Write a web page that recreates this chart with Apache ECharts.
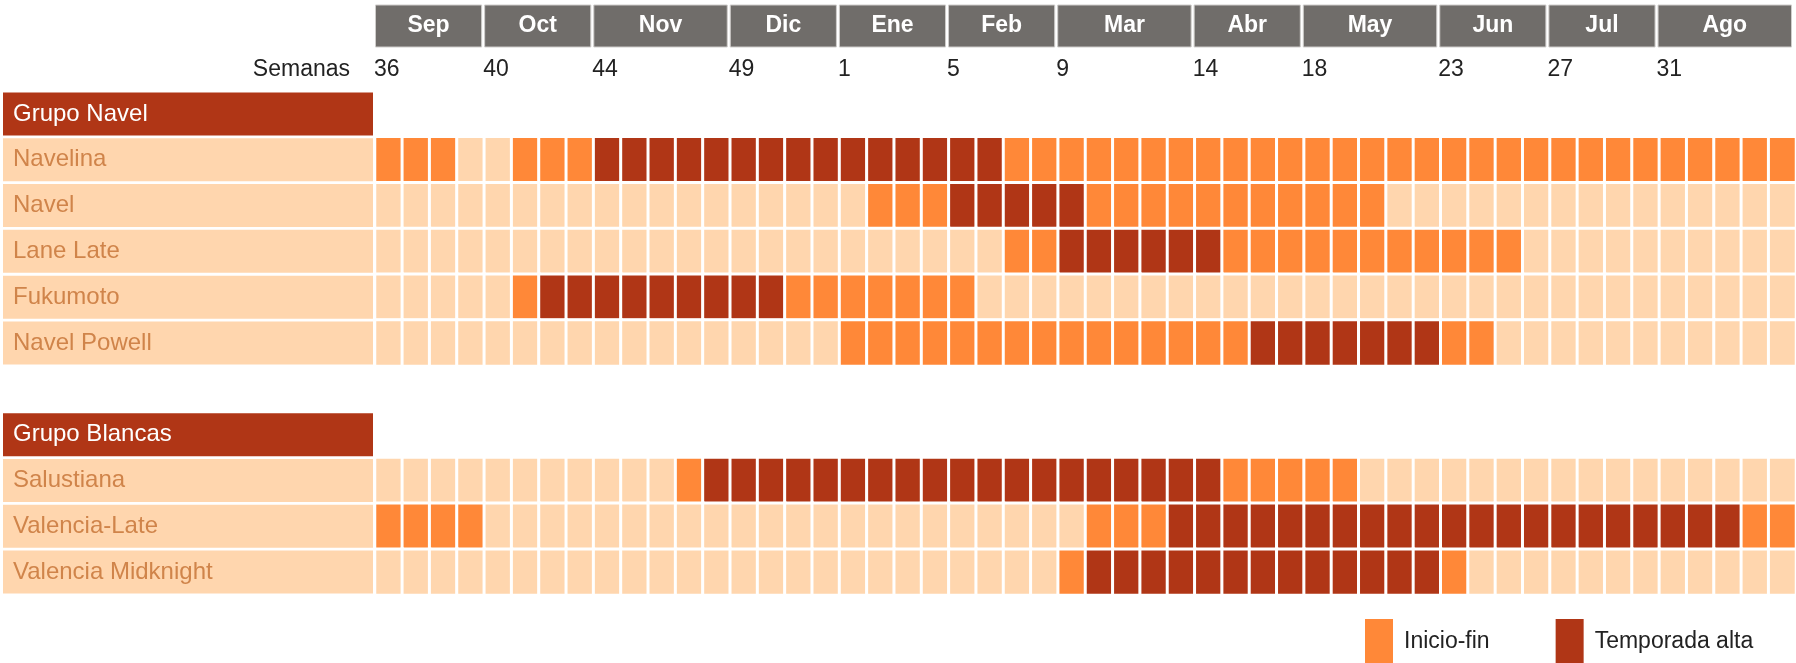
<!DOCTYPE html>
<html>
<head>
<meta charset="utf-8">
<script src="https://cdn.jsdelivr.net/npm/echarts@6.0.0/dist/echarts.min.js"></script>
<style>
  html, body { margin: 0; padding: 0; background: #fff; }
  #chart-container { width: 1796px; height: 663px; }
</style>
</head>
<body>
<div id="chart-container"></div>
<script>
const weeks = [
  "36", "37", "38", "39", "40", "41", "42", "43", "44", "45", "46", "47", "48",
  "49", "50", "51", "52", "1", "2", "3", "4", "5", "6", "7", "8", "9", "10",
  "11", "12", "13", "14", "15", "16", "17", "18", "19", "20", "21", "22", "23",
  "24", "25", "26", "27", "28", "29", "30", "31", "32", "33", "34", "35",
];

const monthNames = ["Sep", "Oct", "Nov", "Dic", "Ene", "Feb", "Mar", "Abr", "May", "Jun", "Jul", "Ago"];
const monthWeeks = [4, 4, 5, 4, 4, 4, 5, 4, 5, 4, 4, 5];

const rows = [
  "Grupo Navel", "Navelina", "Navel", "Lane Late", "Fukumoto", "Navel Powell",
  "", "Grupo Blancas", "Salustiana", "Valencia-Late", "Valencia Midknight",
];
const groups = ["Grupo Navel", "Grupo Blancas"];

// 0 = fuera de temporada, 1 = inicio-fin, 2 = temporada alta
const navelina = [
  1, 1, 1, 0, 0, 1, 1, 1, 2, 2, 2, 2, 2, 2, 2, 2, 2, 2, 2, 2, 2, 2, 2, 1, 1, 1,
  1, 1, 1, 1, 1, 1, 1, 1, 1, 1, 1, 1, 1, 1, 1, 1, 1, 1, 1, 1, 1, 1, 1, 1, 1, 1,
];
const navel = [
  0, 0, 0, 0, 0, 0, 0, 0, 0, 0, 0, 0, 0, 0, 0, 0, 0, 0, 1, 1, 1, 2, 2, 2, 2, 2,
  1, 1, 1, 1, 1, 1, 1, 1, 1, 1, 1, 0, 0, 0, 0, 0, 0, 0, 0, 0, 0, 0, 0, 0, 0, 0,
];
const laneLate = [
  0, 0, 0, 0, 0, 0, 0, 0, 0, 0, 0, 0, 0, 0, 0, 0, 0, 0, 0, 0, 0, 0, 0, 1, 1, 2,
  2, 2, 2, 2, 2, 1, 1, 1, 1, 1, 1, 1, 1, 1, 1, 1, 0, 0, 0, 0, 0, 0, 0, 0, 0, 0,
];
const fukumoto = [
  0, 0, 0, 0, 0, 1, 2, 2, 2, 2, 2, 2, 2, 2, 2, 1, 1, 1, 1, 1, 1, 1, 0, 0, 0, 0,
  0, 0, 0, 0, 0, 0, 0, 0, 0, 0, 0, 0, 0, 0, 0, 0, 0, 0, 0, 0, 0, 0, 0, 0, 0, 0,
];
const navelPowell = [
  0, 0, 0, 0, 0, 0, 0, 0, 0, 0, 0, 0, 0, 0, 0, 0, 0, 1, 1, 1, 1, 1, 1, 1, 1, 1,
  1, 1, 1, 1, 1, 1, 2, 2, 2, 2, 2, 2, 2, 1, 1, 0, 0, 0, 0, 0, 0, 0, 0, 0, 0, 0,
];
const salustiana = [
  0, 0, 0, 0, 0, 0, 0, 0, 0, 0, 0, 1, 2, 2, 2, 2, 2, 2, 2, 2, 2, 2, 2, 2, 2, 2,
  2, 2, 2, 2, 2, 1, 1, 1, 1, 1, 0, 0, 0, 0, 0, 0, 0, 0, 0, 0, 0, 0, 0, 0, 0, 0,
];
const valenciaLate = [
  1, 1, 1, 1, 0, 0, 0, 0, 0, 0, 0, 0, 0, 0, 0, 0, 0, 0, 0, 0, 0, 0, 0, 0, 0, 0,
  1, 1, 1, 2, 2, 2, 2, 2, 2, 2, 2, 2, 2, 2, 2, 2, 2, 2, 2, 2, 2, 2, 2, 2, 1, 1,
];
const valenciaMidknight = [
  0, 0, 0, 0, 0, 0, 0, 0, 0, 0, 0, 0, 0, 0, 0, 0, 0, 0, 0, 0, 0, 0, 0, 0, 0, 1,
  2, 2, 2, 2, 2, 2, 2, 2, 2, 2, 2, 2, 2, 1, 0, 0, 0, 0, 0, 0, 0, 0, 0, 0, 0, 0,
];

const legendNames = ["Inicio-fin", "Temporada alta"];

const varieties = [
  ["Navelina", navelina],
  ["Navel", navel],
  ["Lane Late", laneLate],
  ["Fukumoto", fukumoto],
  ["Navel Powell", navelPowell],
  ["Salustiana", salustiana],
  ["Valencia-Late", valenciaLate],
  ["Valencia Midknight", valenciaMidknight],
];

const FONT = "Liberation Sans, Arial, sans-serif";
const LIGHT = "#FFD6AE";
const ORANGE = "#FF8838";
const DARK = "#B03616";

// cells of the heatmap: [week index, row index, value]
const cells = [];
varieties.forEach(([name, values]) => {
  const r = rows.indexOf(name);
  values.forEach((v, c) => cells.push([c, r, v]));
});

// month blocks on the week scale
const monthBlocks = [];
const monthStarts = [];
let start = 0;
monthNames.forEach((m, i) => {
  monthBlocks.push({ name: m, value: [start, start + monthWeeks[i]] });
  monthStarts.push(start);
  start += monthWeeks[i];
});

const dom = document.getElementById("chart-container");
const myChart = echarts.init(dom, null, { renderer: "canvas" });

const option = {
  animation: false,
  textStyle: { fontFamily: FONT },
  grid: [
    { left: 374, right: 0, top: 5, height: 42 },
    { left: 374, right: 0, top: 91, bottom: 68 },
  ],
  xAxis: [
    {
      gridIndex: 0,
      type: "value",
      min: 0,
      max: weeks.length,
      interval: 1,
      axisLine: { show: false },
      axisTick: { show: false },
      splitLine: { show: false },
      axisLabel: {
        margin: 11,
        align: "left",
        fontSize: 23,
        color: "#222",
        fontFamily: FONT,
        showMinLabel: true,
        showMaxLabel: true,
        formatter: (v) => (monthStarts.includes(v) ? weeks[v] : ""),
      },
    },
    {
      gridIndex: 1,
      type: "category",
      data: weeks,
      show: false,
    },
  ],
  yAxis: [
    { gridIndex: 0, type: "value", min: 0, max: 1, show: false },
    {
      gridIndex: 1,
      type: "category",
      data: rows,
      inverse: true,
      axisLine: { show: false },
      axisTick: { show: false },
      splitLine: { show: false },
      axisLabel: {
        interval: 0,
        margin: 2,
        formatter: (v) => {
          if (!v) return "";
          return groups.includes(v) ? "{g|" + v + "}" : "{v|" + v + "}";
        },
        rich: {
          v: {
            width: 360,
            height: 43,
            padding: [0, 0, 0, 10],
            backgroundColor: LIGHT,
            color: "#D0844A",
            fontSize: 24,
            fontFamily: FONT,
            align: "left",
          },
          g: {
            width: 360,
            height: 43,
            padding: [0, 0, 0, 10],
            backgroundColor: DARK,
            color: "#fff",
            fontSize: 24,
            fontFamily: FONT,
            align: "left",
          },
        },
      },
    },
  ],
  visualMap: {
    type: "piecewise",
    seriesIndex: 1,
    dimension: 2,
    orient: "horizontal",
    left: 1350,
    top: 604,
    itemSymbol: "rect",
    itemWidth: 28,
    itemHeight: 46,
    itemGap: 66,
    textGap: 11,
    selectedMode: false,
    textStyle: { fontSize: 23, color: "#222", fontFamily: FONT },
    pieces: [
      { value: 1, label: legendNames[0], color: ORANGE },
      { value: 2, label: legendNames[1], color: DARK },
    ],
    outOfRange: { color: LIGHT },
  },
  graphic: [
    {
      type: "text",
      right: 1446,
      top: 58,
      style: { text: "Semanas", fontSize: 23, fontFamily: FONT, fill: "#222" },
    },
  ],
  series: [
    {
      type: "custom",
      xAxisIndex: 0,
      yAxisIndex: 0,
      data: monthBlocks,
      encode: { x: [0, 1] },
      clip: false,
      renderItem: (params, api) => {
        const p0 = api.coord([api.value(0), 1]);
        const p1 = api.coord([api.value(1), 0]);
        const name = monthNames[params.dataIndex];
        return {
          type: "group",
          children: [
            {
              type: "rect",
              shape: { x: p0[0] + 1.5, y: p0[1], width: p1[0] - p0[0] - 3, height: p1[1] - p0[1] },
              style: { fill: "#706D6A", stroke: "#CFCDCB", lineWidth: 1 },
            },
            {
              type: "text",
              style: {
                text: name,
                x: (p0[0] + p1[0]) / 2,
                y: (p0[1] + p1[1]) / 2,
                align: "center",
                verticalAlign: "middle",
                textAlign: "center",
                textVerticalAlign: "middle",
                fill: "#fff",
                fontSize: 23,
                fontWeight: "bold",
                fontFamily: FONT,
              },
            },
          ],
        };
      },
    },
    {
      type: "heatmap",
      xAxisIndex: 1,
      yAxisIndex: 1,
      data: cells,
      itemStyle: { borderColor: "#fff", borderWidth: 3 },
      emphasis: { disabled: true },
    },
  ],
};

if (option && typeof option === "object") {
  myChart.setOption(option);
}

window.addEventListener("resize", myChart.resize);
</script>
</body>
</html>
